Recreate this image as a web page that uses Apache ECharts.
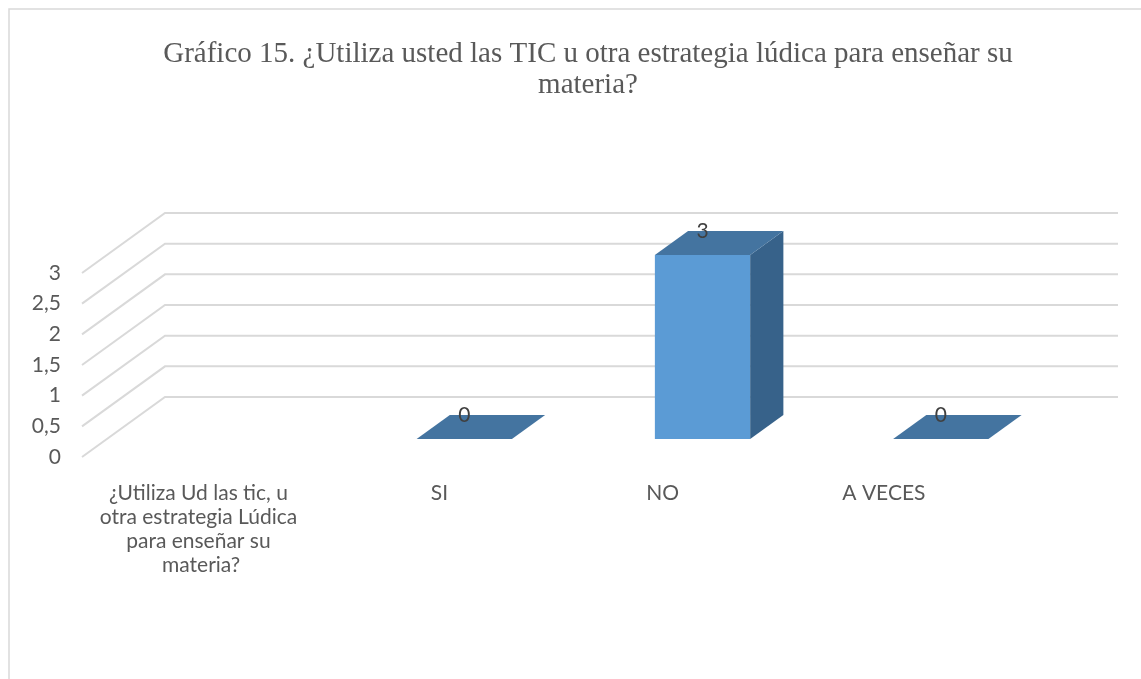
<!DOCTYPE html>
<html>
<head>
<meta charset="utf-8">
<script src="https://cdn.jsdelivr.net/npm/echarts@6/dist/echarts.min.js"></script>
<style>
  html, body { margin: 0; padding: 0; background: #fff; }
  #chart { width: 1141px; height: 679px; }
</style>
</head>
<body>
<div id="chart"></div>
<script>
  // datos del gráfico
  const categories = ['¿Utiliza Ud las tic, u otra estrategia Lúdica para enseñar su materia?', 'SI', 'NO', 'A VECES']
  const counts = [null, 0, 3, 0]
  const tickValues = [0, 0.5, 1, 1.5, 2, 2.5, 3]
  // desplazamiento de las etiquetas (como en el original de Excel)
  const labelShift = [0, 0, 30, 64]

  // profundidad del efecto 3D (px)
  const DX = 83
  const DY = -60
  const FRONT = 0.3
  const DEPTH = 0.4

  const barData = []
  counts.forEach((v, i) => {
    if (v !== null) barData.push([i, v])
  })

  const myChart = echarts.init(document.getElementById('chart'))
  myChart.setOption({
    backgroundColor: '#fff',
    animation: false,
    title: {
      text: 'Gráfico 15. ¿Utiliza usted las TIC u otra estrategia lúdica para enseñar su\nmateria?',
      left: 583,
      textAlign: 'center',
      top: 34,
      textStyle: {
        fontFamily: 'Liberation Serif',
        fontSize: 29,
        fontWeight: 'normal',
        color: '#595959',
        lineHeight: 31,
        align: 'center'
      }
    },
    graphic: [{
      type: 'rect',
      shape: { x: 9, y: 9, width: 1200, height: 700 },
      style: { fill: 'none', stroke: '#d9d9d9', lineWidth: 1.5 },
      silent: true
    }],
    grid: { left: 82, right: 106, top: 273, bottom: 222 },
    xAxis: {
      type: 'category',
      data: categories.map((c, i) => ({
        value: c,
        textStyle: { padding: [0, labelShift[i], 0, 0] }
      })),
      axisLine: { show: false },
      axisTick: { show: false },
      axisLabel: {
        interval: 0,
        margin: 24,
        width: 220,
        overflow: 'break',
        lineHeight: 24,
        fontFamily: 'Lato',
        fontSize: 21,
        color: '#595959'
      }
    },
    yAxis: {
      type: 'value',
      min: 0,
      max: 3,
      interval: 0.5,
      axisLine: { show: false },
      axisTick: { show: false },
      splitLine: { show: false },
      axisLabel: {
        margin: 21,
        fontFamily: 'Lato',
        fontSize: 21,
        color: '#595959',
        formatter: (v) => String(v).replace('.', ',')
      }
    },
    series: [
      {
        // líneas de cuadrícula en perspectiva
        type: 'custom',
        silent: true,
        data: tickValues.map(v => [0, v]),
        encode: { x: 0, y: 1 },
        renderItem(params, api) {
          const p = api.coord([0, api.value(1)])
          const bw = api.size([1, 0])[0]
          const xl = p[0] - bw / 2
          const xr = xl + bw * categories.length
          const y = p[1]
          return {
            type: 'polyline',
            shape: { points: [[xl, y], [xl + DX, y + DY], [xr + DX, y + DY]] },
            style: { stroke: '#d9d9d9', lineWidth: 2, fill: 'none' }
          }
        },
        z: 1
      },
      {
        type: 'custom',
        data: barData,
        encode: { x: 0, y: 1 },
        renderItem(params, api) {
          const idx = api.value(0)
          const val = api.value(1)
          const c0 = api.coord([idx, 0])
          const c1 = api.coord([idx, val])
          const bw = api.size([1, 0])[0]
          const w = bw * 0.4
          const fx = c0[0] - w / 2 + FRONT * DX
          const fyb = c0[1] + FRONT * DY
          const fyt = c1[1] + FRONT * DY
          const ddx = DEPTH * DX
          const ddy = DEPTH * DY
          const children = []
          if (fyb - fyt > 0.5) {
            children.push({
              type: 'rect',
              shape: { x: fx, y: fyt, width: w, height: fyb - fyt },
              style: { fill: '#5B9BD5' }
            })
            children.push({
              type: 'polygon',
              shape: { points: [[fx + w, fyt], [fx + w + ddx, fyt + ddy], [fx + w + ddx, fyb + ddy], [fx + w, fyb]] },
              style: { fill: '#37628A' }
            })
          }
          children.push({
            type: 'polygon',
            shape: { points: [[fx, fyt], [fx + w, fyt], [fx + w + ddx, fyt + ddy], [fx + ddx, fyt + ddy]] },
            style: { fill: '#4474A0' }
          })
          children.push({
            type: 'text',
            style: {
              x: fx + w / 2,
              y: fyt + ddy,
              text: String(val),
              align: 'center',
              verticalAlign: 'middle',
              fontFamily: 'Lato',
              fontSize: 21,
              fill: '#404040'
            }
          })
          return { type: 'group', children: children }
        },
        z: 2
      }
    ]
  })
</script>
</body>
</html>
